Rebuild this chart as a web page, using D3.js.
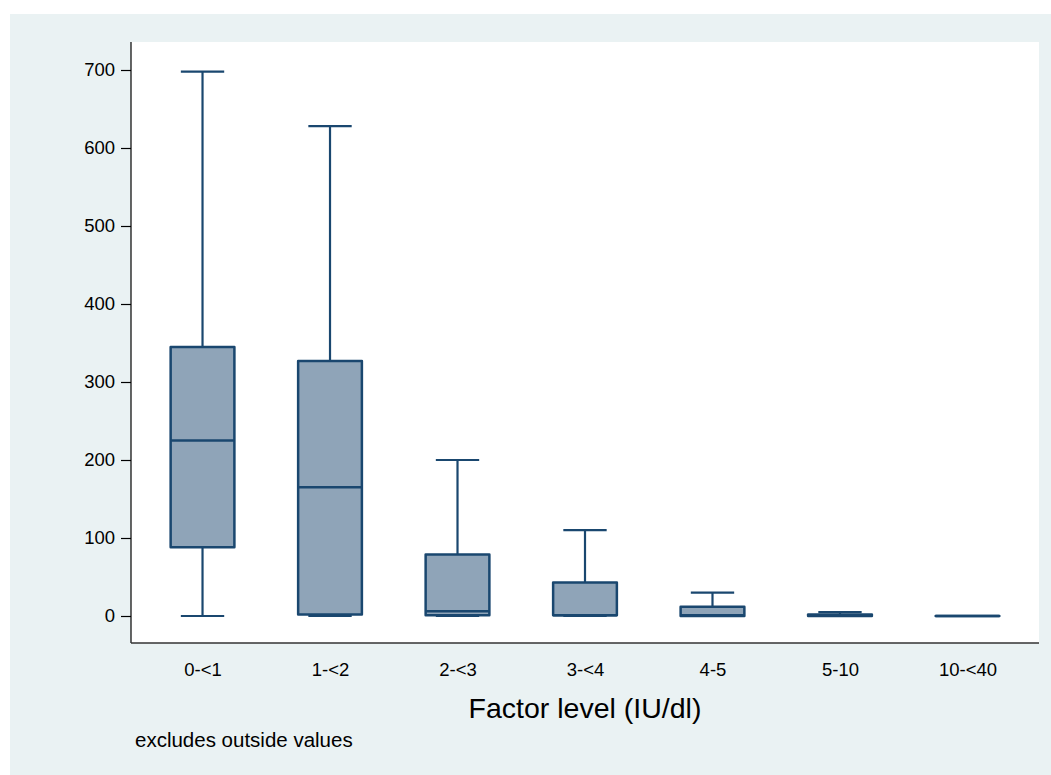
<!DOCTYPE html>
<html>
<head>
<meta charset="utf-8">
<script src="https://cdn.jsdelivr.net/npm/d3@7"></script>
<style>
  html, body { margin: 0; padding: 0; background: #ffffff; }
  svg { display: block; }
  text { font-family: "Liberation Sans", Arial, sans-serif; fill: #000; }
</style>
</head>
<body>
<svg id="chart" width="1051" height="775"></svg>
<script>
const categories = ["0-<1", "1-<2", "2-<3", "3-<4", "4-5", "5-10", "10-<40"];
const lowerWhisker = [0, 0, 0, 0, 0, 0, 0];
const q1 = [88, 2, 1, 1, 0, 0, 0];
const median = [225, 165, 6, 1, 1, 1, 0];
const q3 = [345, 327, 79, 43, 12, 2, 0];
const upperWhisker = [698, 628, 200, 110, 30, 5, 0];
const yTicks = [0, 100, 200, 300, 400, 500, 600, 700];
const xTitle = "Factor level (IU/dl)";
const noteText = "excludes outside values";

const W = 1051, H = 775;
const plot = { left: 131, right: 1039, top: 42, bottom: 643 };
const navy = "#1a476f";
const boxFill = "#8fa4b8";

const svg = d3.select("#chart");

// outer background
svg.append("rect").attr("x", 10).attr("y", 14).attr("width", W - 10).attr("height", H - 14)
  .attr("fill", "#eaf2f3");
// plot region
svg.append("rect").attr("x", plot.left).attr("y", plot.top)
  .attr("width", plot.right - plot.left).attr("height", plot.bottom - plot.top)
  .attr("fill", "#ffffff");

const x = d3.scalePoint().domain(categories).range([plot.left, plot.right]).padding(0.561);
const y = d3.scaleLinear().domain([0, 700]).range([616, 70]);
const step = x.step();
const boxW = step * 0.5;
const capW = step * 0.34;

const data = categories.map((c, i) => ({
  c, lo: lowerWhisker[i], q1: q1[i], med: median[i], q3: q3[i], hi: upperWhisker[i]
}));

// Y axis
const yAxis = d3.axisLeft(y).tickValues(yTicks).tickSize(10).tickPadding(6).tickFormat(d3.format("d"));
const gy = svg.append("g").attr("transform", `translate(${plot.left},0)`).call(yAxis);
gy.select(".domain").attr("d", `M0,${plot.top}V${plot.bottom}`).attr("stroke", "#000").attr("stroke-width", 1.2);
gy.selectAll(".tick line").attr("stroke", "#000").attr("stroke-width", 1.2);
gy.selectAll(".tick text").attr("font-size", 18.5).attr("font-family", "Liberation Sans, Arial, sans-serif").attr("fill", "#000");

// X axis
const xAxis = d3.axisBottom(x).tickSize(0).tickPadding(20);
const gx = svg.append("g").attr("transform", `translate(0,${plot.bottom})`).call(xAxis);
gx.select(".domain").attr("d", `M${plot.left},0H${plot.right}`).attr("stroke", "#333").attr("stroke-width", 1.5);
gx.selectAll(".tick text").attr("font-size", 18.5).attr("font-family", "Liberation Sans, Arial, sans-serif").attr("fill", "#000");

const g = svg.append("g");
const boxes = g.selectAll("g.box").data(data).join("g").attr("class", "box");

// whiskers
boxes.append("line")
  .attr("x1", d => x(d.c)).attr("x2", d => x(d.c))
  .attr("y1", d => y(d.q3)).attr("y2", d => y(d.hi))
  .attr("stroke", navy).attr("stroke-width", 2.2);
boxes.append("line")
  .attr("x1", d => x(d.c)).attr("x2", d => x(d.c))
  .attr("y1", d => y(d.q1)).attr("y2", d => y(d.lo))
  .attr("stroke", navy).attr("stroke-width", 2.2);
// caps
boxes.append("line")
  .attr("x1", d => x(d.c) - capW / 2).attr("x2", d => x(d.c) + capW / 2)
  .attr("y1", d => y(d.hi)).attr("y2", d => y(d.hi))
  .attr("stroke", navy).attr("stroke-width", 2.2);
boxes.append("line")
  .attr("x1", d => x(d.c) - capW / 2).attr("x2", d => x(d.c) + capW / 2)
  .attr("y1", d => y(d.lo)).attr("y2", d => y(d.lo))
  .attr("stroke", navy).attr("stroke-width", 2.2);
// box
boxes.append("rect")
  .attr("x", d => x(d.c) - boxW / 2).attr("width", boxW)
  .attr("y", d => y(d.q3)).attr("height", d => Math.max(0.01, y(d.q1) - y(d.q3)))
  .attr("fill", boxFill).attr("stroke", navy).attr("stroke-width", 2.5)
  .attr("stroke-linejoin", "round");
// median
boxes.append("line")
  .attr("x1", d => x(d.c) - boxW / 2).attr("x2", d => x(d.c) + boxW / 2)
  .attr("y1", d => y(d.med)).attr("y2", d => y(d.med))
  .attr("stroke", navy).attr("stroke-width", 2.5);

// axis title
svg.append("text").attr("x", (plot.left + plot.right) / 2).attr("y", 718)
  .attr("text-anchor", "middle").attr("font-size", 28.5).text(xTitle);

// note
svg.append("text").attr("x", 135).attr("y", 747)
  .attr("font-size", 20.5).text(noteText);
</script>
</body>
</html>
